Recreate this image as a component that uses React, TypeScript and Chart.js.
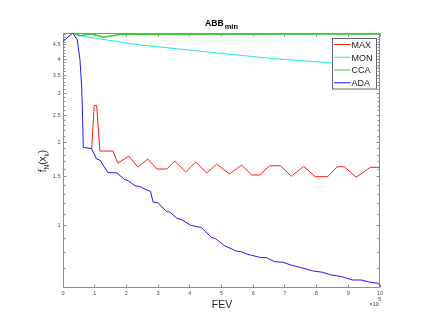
import React, { useEffect, useRef } from "react";
import { Chart, registerables } from "chart.js";
Chart.register(...registerables);

const FONT = '"Liberation Sans", Arial, Helvetica, sans-serif';

// x values in units of 1e5 FEV
const maxX = [0.903, 0.985, 1.061, 1.165, 1.574, 1.731, 2.077, 2.361, 2.675, 2.959, 3.273, 3.525, 3.871, 4.186, 4.533, 4.847, 5.256, 5.634, 5.949, 6.201, 6.516, 6.862, 7.199, 7.595, 7.954, 8.351, 8.647, 8.876, 9.245, 9.695, 10];
const maxY = [1.89, 2.72, 2.72, 1.86, 1.86, 1.683, 1.783, 1.628, 1.74, 1.602, 1.602, 1.712, 1.563, 1.698, 1.55, 1.669, 1.537, 1.655, 1.524, 1.524, 1.646, 1.646, 1.508, 1.638, 1.503, 1.503, 1.633, 1.633, 1.496, 1.625, 1.625];

const monX = [0.305, 0.69, 2.42, 6.2, 6.83, 8.51, 10];
const monY = [4.97, 4.82, 4.5, 4.06, 4.0, 3.87, 3.73];

const ccaX = [0.305, 0.535, 0.9, 1.27, 1.85, 10];
const ccaY = [4.97, 4.86, 4.94, 4.8, 4.92, 4.93];

const adaX = [0, 0.305, 0.45, 0.535, 0.589, 0.62, 0.64, 0.903, 1.061, 1.165, 1.416, 1.7, 1.952, 2.055, 2.266, 2.424, 2.685, 2.76, 2.842, 3.0, 3.264, 3.368, 3.579, 3.736, 4.029, 4.366, 4.681, 4.806, 5.099, 5.467, 5.625, 5.833, 5.94, 6.201, 6.412, 6.673, 6.934, 7.199, 7.513, 7.879, 8.193, 8.458, 8.772, 9.138, 9.402, 9.717, 9.947, 10];
const adaY = [4.63, 4.97, 4.69, 3.98, 3.19, 2.42, 1.917, 1.9, 1.74, 1.726, 1.556, 1.55, 1.466, 1.454, 1.395, 1.384, 1.339, 1.332, 1.216, 1.209, 1.125, 1.12, 1.066, 1.051, 1.003, 0.984, 0.906, 0.898, 0.846, 0.809, 0.805, 0.787, 0.782, 0.768, 0.766, 0.741, 0.737, 0.72, 0.705, 0.686, 0.678, 0.663, 0.655, 0.636, 0.636, 0.623, 0.619, 0.609];

const seriesLabels = ["MAX", "MON", "CCA", "ADA"];
const seriesColors = ["#ff1a1a", "#1ee6e6", "#33cc33", "#1a1aff"];

const xTicks = [0, 1, 2, 3, 4, 5, 6, 7, 8, 9, 10];
const yMajorTicks = [1, 1.5, 2, 2.5, 3, 3.5, 4, 4.5];
const Y_MIN = 0.609;
const Y_MAX = 4.97;

const yAllTicks: number[] = [];
for (let i = 7; i <= 49; i++) yAllTicks.push(i / 10);

const pts = (xs: number[], ys: number[]) => xs.map((x, i) => ({ x, y: ys[i] }));

const crisp = (v: number) => Math.floor(v) + 0.5;

const matlabPlugin = {
  id: "matlab",
  beforeDatasetsDraw(chart: any) {
    const { ctx, chartArea: a, scales } = chart;
    const L = crisp(a.left), R = crisp(a.right - 1), T = crisp(a.top), B = crisp(a.bottom);
    ctx.save();
    ctx.strokeStyle = "#8c8c8c";
    ctx.lineWidth = 1;
    ctx.beginPath();
    ctx.rect(L, T, R - L, B - T);
    ctx.stroke();
    ctx.beginPath();
    for (const v of xTicks) {
      const px = crisp(scales.x.getPixelForValue(v));
      ctx.moveTo(px, B); ctx.lineTo(px, B - 3);
      ctx.moveTo(px, T); ctx.lineTo(px, T + 3);
    }
    for (const v of yAllTicks) {
      if (v < Y_MIN || v > Y_MAX) continue;
      const major = yMajorTicks.some((m) => Math.abs(m - v) < 1e-9);
      const len = major ? 3 : 2;
      const py = crisp(scales.y.getPixelForValue(v));
      ctx.moveTo(L, py); ctx.lineTo(L + len, py);
      ctx.moveTo(R, py); ctx.lineTo(R - len, py);
    }
    ctx.stroke();
    ctx.restore();
  },
  afterDatasetsDraw(chart: any) {
    const { ctx, chartArea: a } = chart;
    // legend
    const lx = a.right - 47.5, ly = a.top + 5.5, w = 44, h = 50.5;
    ctx.save();
    ctx.fillStyle = "#ffffff";
    ctx.fillRect(lx, ly, w, h);
    ctx.strokeStyle = "#666666";
    ctx.lineWidth = 1;
    ctx.strokeRect(lx, ly, w, h);
    ctx.font = `9px ${FONT}`;
    ctx.textBaseline = "alphabetic";
    ctx.textAlign = "left";
    seriesLabels.forEach((lab, i) => {
      const ry = ly + 6 + i * 12.75;
      ctx.strokeStyle = seriesColors[i];
      ctx.lineWidth = 1;
      ctx.beginPath();
      ctx.moveTo(lx + 1.5, ry);
      ctx.lineTo(lx + 18, ry);
      ctx.stroke();
      ctx.fillStyle = "#1a1a1a";
      ctx.fillText(lab, lx + 19, ry + 3.3);
    });
    ctx.restore();
  },
  afterDraw(chart: any) {
    const { ctx, chartArea: a } = chart;
    const cx = (a.left + a.right) / 2;
    ctx.save();
    ctx.fillStyle = "#000000";
    // title ABB_min
    ctx.font = `bold 8.6px ${FONT}`;
    const t1 = "ABB";
    const w1 = ctx.measureText(t1).width;
    ctx.font = `bold 7.5px ${FONT}`;
    const t2 = "min";
    const w2 = ctx.measureText(t2).width;
    const tx = cx - (w1 + 1 + w2) / 2;
    ctx.textBaseline = "alphabetic";
    ctx.textAlign = "left";
    ctx.font = `bold 8.6px ${FONT}`;
    ctx.fillText(t1, tx, 25.8);
    ctx.font = `bold 7.5px ${FONT}`;
    ctx.fillText(t2, tx + w1 + 1, 29);

    // x label
    ctx.fillStyle = "#262626";
    ctx.font = `10.5px ${FONT}`;
    ctx.textAlign = "center";
    ctx.fillText("FEV", cx + 0.5, 308.3);

    // x exponent
    ctx.textAlign = "left";
    ctx.font = `5.5px ${FONT}`;
    ctx.fillText("\u00d710", 369.5, 305.5);
    ctx.font = `5px ${FONT}`;
    ctx.fillText("5", 378.3, 301.3);

    // y label f_N(x_k)
    const parts: [string, number, number][] = [
      ["f", 10, 0],
      ["N", 6.5, 3.5],
      ["(x", 10, 0],
      ["k", 6.5, 3.5],
      [")", 10, 0],
    ];
    let total = 0;
    const widths = parts.map(([s, sz]) => {
      ctx.font = `${sz}px ${FONT}`;
      const ww = ctx.measureText(s).width;
      total += ww;
      return ww;
    });
    ctx.translate(45.8, (a.top + a.bottom) / 2 + 1);
    ctx.rotate(-Math.PI / 2);
    let px = -total / 2;
    parts.forEach(([s, sz, off], i) => {
      ctx.font = `${sz}px ${FONT}`;
      ctx.fillText(s, px, off);
      px += widths[i];
    });
    ctx.restore();
  },
};

export default function App() {
  const ref = useRef<HTMLCanvasElement>(null);
  useEffect(() => {
    const canvas = ref.current!;
    const data = [pts(maxX, maxY), pts(monX, monY), pts(ccaX, ccaY), pts(adaX, adaY)];
    const orders = [4, 3, 2, 1];
    const chart = new Chart(canvas, {
      type: "line",
      data: {
        datasets: data.map((d, i) => ({
          label: seriesLabels[i],
          data: d,
          borderColor: seriesColors[i],
          backgroundColor: seriesColors[i],
          borderWidth: i === 2 ? 1.5 : 1,
          pointRadius: 0,
          tension: 0,
          fill: false,
          order: orders[i],
        })),
      },
      options: {
        responsive: false,
        animation: false,
        events: [],
        layout: { padding: { left: 23, right: 50, top: 33, bottom: 25 } },
        plugins: { legend: { display: false }, tooltip: { enabled: false }, title: { display: false } },
        scales: {
          x: {
            type: "linear",
            min: 0,
            max: 10,
            grid: { display: false, drawTicks: false },
            border: { display: false },
            afterBuildTicks: (s: any) => { s.ticks = xTicks.map((v) => ({ value: v })); },
            afterFit: (s: any) => { s.height = 20; },
            ticks: {
              autoSkip: false,
              maxRotation: 0,
              padding: 3.5,
              color: "#4d4d4d",
              font: { size: 5.5, family: FONT },
              callback: (v: any) => String(v),
            },
          },
          y: {
            type: "logarithmic",
            min: Y_MIN,
            max: Y_MAX,
            grid: { display: false, drawTicks: false },
            border: { display: false },
            afterBuildTicks: (s: any) => { s.ticks = yMajorTicks.map((v) => ({ value: v })); },
            afterFit: (s: any) => { s.width = 40; },
            ticks: {
              autoSkip: false,
              padding: 2.5,
              color: "#4d4d4d",
              font: { size: 5.5, family: FONT },
              callback: (v: any) => String(v),
            },
          },
        },
      },
      plugins: [matlabPlugin],
    } as any);
    return () => chart.destroy();
  }, []);
  return (
    <div style={{ position: "fixed", left: 0, top: 0, width: 430, height: 332, background: "#ffffff" }}>
      <canvas ref={ref} width={430} height={332} style={{ display: "block", width: 430, height: 332 }} />
    </div>
  );
}
